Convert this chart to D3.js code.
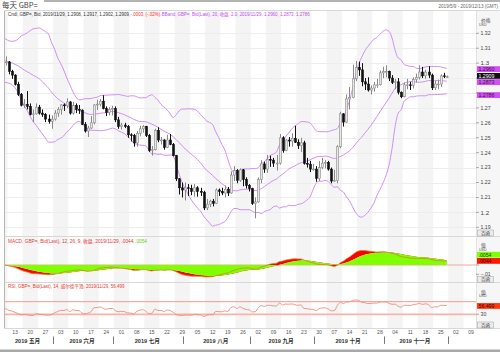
<!DOCTYPE html>
<html>
<head>
<meta charset="utf-8">
<script src="https://cdn.jsdelivr.net/npm/d3@7"></script>
<style>
  body { margin: 0; background: #fff; }
  svg { display: block; }
</style>
</head>
<body>
<script>
// ---- data (GBP= daily) ----
const firstDay = "2019-05-09";
const lastDay = "2019-12-13";

// closes before the visible range, only used to warm up the indicators
const warmupClose = [1.3077, 1.3115, 1.3165, 1.3113, 1.3037, 1.3062, 1.3058, 1.3104, 1.3073, 1.3090,
  1.3110, 1.3046, 1.3040, 1.2993, 1.2985, 1.3003, 1.2953, 1.2898, 1.2898, 1.2917,
  1.2935, 1.3040, 1.3045, 1.3035, 1.3185, 1.3095, 1.3110, 1.3010];

const open = [
  1.3010, 1.3005, 1.3008, 1.2945, 1.2920, 1.2858, 1.2790, 1.2718, 1.2723, 1.2710, 1.2655, 1.2660, 1.2705, 1.2665, 1.2655, 1.2625, 1.2610,
  1.2625, 1.2665, 1.2690, 1.2720, 1.2715, 1.2740, 1.2665, 1.2715, 1.2690, 1.2685, 1.2590, 1.2545, 1.2565, 1.2600, 1.2720, 1.2725, 1.2745, 1.2695, 1.2670, 1.2690,
  1.2695, 1.2620, 1.2575, 1.2585, 1.2575, 1.2520, 1.2515, 1.2465, 1.2530, 1.2560, 1.2575, 1.2515, 1.2415, 1.2420, 1.2550, 1.2485, 1.2485, 1.2435, 1.2485, 1.2455, 1.2380, 1.2225, 1.2165,
  1.2150, 1.2165, 1.2160, 1.2140, 1.2165, 1.2140, 1.2135, 1.2030, 1.2055, 1.2075, 1.2060, 1.2150, 1.2140, 1.2130, 1.2155, 1.2130, 1.2250, 1.2280, 1.2215, 1.2285, 1.2220, 1.2180,
  1.2160, 1.2060, 1.2070, 1.2220, 1.2325, 1.2290, 1.2355, 1.2350, 1.2330, 1.2330, 1.2500, 1.2415, 1.2485, 1.2478, 1.2495, 1.2470, 1.2447, 1.2466, 1.2328, 1.2323, 1.2290,
  1.2290, 1.2228, 1.2300, 1.2330, 1.2335, 1.2290, 1.2210, 1.2215, 1.2440, 1.2660, 1.2605, 1.2760, 1.2770, 1.2895, 1.2970, 1.2955, 1.2875, 1.2860, 1.2820, 1.2833, 1.2855, 1.2855, 1.2935,
  1.2945, 1.2945, 1.2900, 1.2870, 1.2875, 1.2805, 1.2775, 1.2855, 1.2855, 1.2850, 1.2890, 1.2905, 1.2940, 1.2915, 1.2940, 1.2920, 1.2835, 1.2860, 1.2860, 1.2915, 1.2908];
const high = [
  1.3030, 1.3045, 1.3015, 1.2955, 1.2925, 1.2875, 1.2800, 1.2760, 1.2813, 1.2730, 1.2690, 1.2730, 1.2720, 1.2690, 1.2665, 1.2655, 1.2650,
  1.2685, 1.2705, 1.2725, 1.2730, 1.2765, 1.2745, 1.2740, 1.2730, 1.2720, 1.2690, 1.2605, 1.2580, 1.2645, 1.2725, 1.2755, 1.2760, 1.2785, 1.2710, 1.2705, 1.2715,
  1.2710, 1.2640, 1.2600, 1.2600, 1.2585, 1.2530, 1.2525, 1.2545, 1.2580, 1.2585, 1.2580, 1.2525, 1.2445, 1.2560, 1.2570, 1.2505, 1.2490, 1.2520, 1.2525, 1.2465, 1.2385, 1.2230, 1.2200,
  1.2200, 1.2190, 1.2185, 1.2190, 1.2175, 1.2165, 1.2145, 1.2090, 1.2085, 1.2090, 1.2160, 1.2160, 1.2165, 1.2180, 1.2170, 1.2275, 1.2310, 1.2290, 1.2295, 1.2290, 1.2235, 1.2190,
  1.2165, 1.2100, 1.2235, 1.2350, 1.2340, 1.2385, 1.2380, 1.2365, 1.2385, 1.2525, 1.2510, 1.2490, 1.2505, 1.2530, 1.2580, 1.2490, 1.2500, 1.2480, 1.2365, 1.2345, 1.2325,
  1.2310, 1.2345, 1.2365, 1.2350, 1.2345, 1.2300, 1.2285, 1.2450, 1.2675, 1.2665, 1.2790, 1.2840, 1.2990, 1.3015, 1.3010, 1.3000, 1.2900, 1.2905, 1.2850, 1.2875, 1.2895, 1.2950, 1.2975,
  1.2985, 1.2950, 1.2920, 1.2895, 1.2900, 1.2810, 1.2870, 1.2895, 1.2875, 1.2905, 1.2930, 1.2985, 1.2975, 1.2955, 1.2980, 1.2930, 1.2880, 1.2890, 1.2925, 1.2935, 1.2917];
const low = [
  1.2990, 1.2985, 1.2925, 1.2895, 1.2850, 1.2780, 1.2710, 1.2700, 1.2690, 1.2650, 1.2605, 1.2655, 1.2655, 1.2640, 1.2605, 1.2595, 1.2560,
  1.2615, 1.2640, 1.2655, 1.2680, 1.2700, 1.2655, 1.2655, 1.2665, 1.2660, 1.2585, 1.2535, 1.2505, 1.2560, 1.2590, 1.2685, 1.2710, 1.2690, 1.2645, 1.2650, 1.2650,
  1.2605, 1.2560, 1.2555, 1.2565, 1.2500, 1.2475, 1.2440, 1.2440, 1.2510, 1.2535, 1.2505, 1.2405, 1.2380, 1.2415, 1.2470, 1.2455, 1.2420, 1.2430, 1.2450, 1.2375, 1.2210, 1.2120, 1.2100,
  1.2080, 1.2110, 1.2115, 1.2105, 1.2105, 1.2110, 1.2015, 1.2015, 1.2035, 1.2040, 1.2055, 1.2110, 1.2115, 1.2100, 1.2110, 1.2125, 1.2210, 1.2195, 1.2205, 1.2175, 1.2160, 1.2140,
  1.2050, 1.1960, 1.2065, 1.2195, 1.2265, 1.2265, 1.2305, 1.2305, 1.2280, 1.2320, 1.2400, 1.2410, 1.2440, 1.2440, 1.2465, 1.2425, 1.2405, 1.2320, 1.2300, 1.2270, 1.2280,
  1.2205, 1.2210, 1.2290, 1.2295, 1.2280, 1.2195, 1.2205, 1.2195, 1.2430, 1.2575, 1.2600, 1.2690, 1.2765, 1.2880, 1.2915, 1.2845, 1.2820, 1.2810, 1.2790, 1.2810, 1.2835, 1.2850, 1.2900,
  1.2905, 1.2880, 1.2860, 1.2825, 1.2790, 1.2765, 1.2770, 1.2825, 1.2820, 1.2830, 1.2870, 1.2890, 1.2900, 1.2895, 1.2900, 1.2820, 1.2820, 1.2825, 1.2840, 1.2900, 1.2902];
const close = [
  1.3005, 1.3008, 1.2945, 1.2920, 1.2858, 1.2790, 1.2718, 1.2723, 1.2710, 1.2655, 1.2660, 1.2705, 1.2665, 1.2655, 1.2625, 1.2610, 1.2625,
  1.2665, 1.2690, 1.2720, 1.2715, 1.2740, 1.2665, 1.2715, 1.2690, 1.2685, 1.2590, 1.2545, 1.2565, 1.2600, 1.2720, 1.2725, 1.2745, 1.2695, 1.2670, 1.2690, 1.2695,
  1.2620, 1.2575, 1.2585, 1.2575, 1.2520, 1.2515, 1.2465, 1.2530, 1.2560, 1.2575, 1.2515, 1.2415, 1.2420, 1.2550, 1.2485, 1.2485, 1.2435, 1.2485, 1.2455, 1.2380, 1.2225, 1.2165, 1.2150,
  1.2165, 1.2160, 1.2140, 1.2165, 1.2140, 1.2135, 1.2030, 1.2055, 1.2075, 1.2060, 1.2150, 1.2140, 1.2130, 1.2155, 1.2130, 1.2250, 1.2280, 1.2215, 1.2285, 1.2220, 1.2180, 1.2160,
  1.2060, 1.2070, 1.2220, 1.2325, 1.2290, 1.2355, 1.2350, 1.2330, 1.2330, 1.2500, 1.2415, 1.2485, 1.2478, 1.2495, 1.2470, 1.2447, 1.2466, 1.2328, 1.2323, 1.2290, 1.2290,
  1.2228, 1.2300, 1.2330, 1.2335, 1.2290, 1.2210, 1.2215, 1.2440, 1.2660, 1.2605, 1.2760, 1.2770, 1.2895, 1.2970, 1.2955, 1.2875, 1.2860, 1.2820, 1.2833, 1.2855, 1.2855, 1.2935, 1.2945,
  1.2945, 1.2900, 1.2870, 1.2875, 1.2805, 1.2775, 1.2855, 1.2855, 1.2850, 1.2890, 1.2905, 1.2940, 1.2915, 1.2940, 1.2920, 1.2835, 1.2860, 1.2860, 1.2915, 1.2912, 1.2909];

const priceTicks = [1.19, 1.2, 1.21, 1.22, 1.23, 1.24, 1.25, 1.26, 1.27, 1.28, 1.29, 1.3, 1.31, 1.32];
const macdTicks = [-0.01, 0];
const rsiTicks = [30];
const rsiLevels = [70, 30];
const monthNames = ["一月", "二月", "三月", "四月", "五月", "六月", "七月", "八月", "九月", "十月", "十一月", "十二月"];

// last values shown in the panel legends / axis boxes
const lastClose = "1.2909";
const lastBands = ["1.2960", "1.2873", "1.2786"];
const lastMacd = ".0044", lastSignal = ".0054", lastRsi = "56.499";

// ---- layout ----
const W = 500, H = 352;
const plotL = 4.5, plotR = 476;
const mainTop = 11, mainBot = 236.5;
const macdTop = 236.5, macdBot = 282.5;
const rsiTop = 282.5, rsiBot = 328.5;
const font = "'Liberation Sans', Arial, 'Noto Sans CJK SC', sans-serif";

const parse = d3.utcParse("%Y-%m-%d");
const days = d3.utcDay.range(parse(firstDay), d3.utcDay.offset(parse(lastDay), 1))
  .filter(d => d.getUTCDay() % 6 !== 0);

const x = d3.scaleBand().domain(d3.range(days.length)).range([1.4, 478.7]);
const step = x.step();
const cx = i => x(i) + step / 2;

const yP = d3.scaleLinear().domain([1.19, 1.32]).range([227.3, 33.3]);
const yM = d3.scaleLinear().domain([-0.01, 0]).range([274.3, 265]);
const yR = d3.scaleLinear().domain([30, 70]).range([314.3, 301.7]);

// ---- indicators (BB 20/2, MACD 12/26/9, RSI 14 Wilder) ----
const allClose = warmupClose.concat(close);
const off = warmupClose.length;
const bands = close.map((c, i) => {
  const win = allClose.slice(off + i - 19, off + i + 1);
  const m = d3.mean(win);
  const sd = Math.sqrt(d3.mean(win, v => (v - m) ** 2));
  return { i, mid: m, up: m + 2 * sd, lo: m - 2 * sd };
});
function ema(arr, n) {
  const k = 2 / (n + 1);
  let e = arr[0];
  return arr.map((v, i) => (i === 0 ? e : (e = v * k + e * (1 - k))));
}
const e12 = ema(allClose, 12), e26 = ema(allClose, 26);
const macdAll = e12.map((v, i) => v - e26[i]);
const sigAll = ema(macdAll, 9);
let ag = 0, al = 0;
const rsiAll = [null];
for (let i = 1; i < allClose.length; i++) {
  const d = allClose[i] - allClose[i - 1];
  const g = Math.max(d, 0), l = Math.max(-d, 0);
  if (i <= 14) { ag += g / 14; al += l / 14; } else { ag = (ag * 13 + g) / 14; al = (al * 13 + l) / 14; }
  rsiAll.push(i >= 14 ? 100 - 100 / (1 + ag / al) : null);
}
const ind = close.map((c, i) => ({
  i, macd: macdAll[off + i], signal: sigAll[off + i], rsi: rsiAll[off + i]
}));

// ---- svg ----
const svg = d3.select("body").append("svg")
  .attr("width", W).attr("height", H)
  .attr("viewBox", [0, 0, W, H])
  .style("font-family", font);

// title and date range
svg.append("text").attr("x", 2).attr("y", 8)
  .attr("font-size", 7.5).attr("fill", "#444")
  .attr("font-family", "'Noto Sans CJK SC', 'Liberation Sans', sans-serif")
  .text("每天 GBP=");
svg.append("line").attr("x1", 44).attr("x2", W).attr("y1", 1).attr("y2", 1)
  .attr("stroke", "#9a9a9a").attr("stroke-width", 1.5);
svg.append("text").attr("x", 498).attr("y", 7.5).attr("text-anchor", "end")
  .attr("font-size", 4.6).attr("fill", "#666")
  .text("2019/5/9 - 2019/12/13 (GMT)");

// axis column background
svg.append("rect").attr("x", plotR).attr("y", mainTop).attr("width", W - plotR).attr("height", rsiBot - mainTop)
  .attr("fill", "#f6f6f6");

// weekly stripes
const weekOf = d => d3.utcMonday.count(parse("2019-05-06"), d);
const weeks = d3.groups(d3.range(days.length), i => weekOf(days[i]));
svg.append("g").selectAll("rect")
  .data(weeks.filter(([w]) => w % 2 === 0))
  .join("rect")
  .attr("x", ([, idx]) => Math.max(plotL, x(idx[0])))
  .attr("width", ([, idx]) => Math.min(plotR, x(idx[idx.length - 1]) + step) - Math.max(plotL, x(idx[0])))
  .attr("y", mainTop).attr("height", rsiBot - mainTop)
  .attr("fill", "#f4f4f4");

// clip paths
const defs = svg.append("defs");
[["clipMain", mainTop, mainBot], ["clipMacd", macdTop, macdBot], ["clipRsi", rsiTop, rsiBot]].forEach(([id, t, b]) => {
  defs.append("clipPath").attr("id", id).append("rect")
    .attr("x", plotL).attr("y", t).attr("width", plotR - plotL).attr("height", b - t);
});

// horizontal grid
svg.append("g").selectAll("line").data(priceTicks).join("line")
  .attr("x1", plotL).attr("x2", plotR)
  .attr("y1", d => Math.round(yP(d)) + 0.5).attr("y2", d => Math.round(yP(d)) + 0.5)
  .attr("stroke", "#ededed").attr("stroke-width", 1);

// ---- main panel ----
const gMain = svg.append("g").attr("clip-path", "url(#clipMain)");
const bandLine = key => d3.line().x(d => cx(d.i)).y(d => yP(d[key])).curve(d3.curveMonotoneX);
["up", "mid", "lo"].forEach(k => {
  gMain.append("path").datum(bands).attr("d", bandLine(k))
    .attr("fill", "none").attr("stroke", "#cf8ff2").attr("stroke-width", 1);
});

const candles = gMain.append("g").selectAll("g").data(close.map((c, i) => i)).join("g");
candles.append("line")
  .attr("x1", i => Math.round(cx(i)) + 0.5).attr("x2", i => Math.round(cx(i)) + 0.5)
  .attr("y1", i => yP(high[i])).attr("y2", i => yP(low[i]))
  .attr("stroke", i => (close[i] >= open[i] ? "#8a8a8a" : "#111")).attr("stroke-width", 1);
candles.append("rect")
  .attr("x", i => Math.round(cx(i)) - 0.5)
  .attr("width", 2)
  .attr("y", i => yP(Math.max(open[i], close[i])))
  .attr("height", i => Math.max(0.8, Math.abs(yP(open[i]) - yP(close[i]))))
  .attr("fill", i => (close[i] >= open[i] ? "#e6e6e6" : "#111"))
  .attr("stroke", i => (close[i] >= open[i] ? "#8a8a8a" : "#111"))
  .attr("stroke-width", 0.6);

// panel legends: pieces side by side, font sized so the line spans the width seen in the picture
const legendFont = "'Liberation Sans Narrow', 'Liberation Sans', 'Noto Sans CJK SC', sans-serif";
function legend(y, width, pieces) {
  const nodes = pieces.map(([txt, col]) =>
    svg.append("text").attr("y", y).attr("font-size", 5).attr("font-family", legendFont)
      .attr("fill", col).text(txt));
  const total = d3.sum(nodes, n => n.node().getComputedTextLength());
  const size = Math.min(5.2, 5 * width / total);
  let xx = 8;
  nodes.forEach(n => {
    n.attr("font-size", size).attr("x", xx);
    xx += n.node().getComputedTextLength() + 0.4;
  });
}
legend(16.2, 302, [
  ["Cndl, GBP=, Bid, 2019/11/29, 1.2908, 1.2917, 1.2902, 1.2909,", "#333"],
  ["-.0003, (-.02%),", "#ff2a2a"],
  ["BBand, GBP=, Bid(Last), 20, 收盘, 2.0, 2019/11/29, 1.2960, 1.2873, 1.2786", "#c050f0"]
]);

// ---- MACD panel ----
const gMacd = svg.append("g").attr("clip-path", "url(#clipMacd)");
gMacd.append("line").attr("x1", plotL).attr("x2", plotR).attr("y1", yM(0)).attr("y2", yM(0))
  .attr("stroke", "#f4a4a0").attr("stroke-width", 1.2);
gMacd.append("path").datum(ind)
  .attr("d", d3.area().x(d => cx(d.i)).y0(d => yM(d.signal)).y1(d => yM(d.macd)).curve(d3.curveMonotoneX))
  .attr("fill", "#ff0000");
gMacd.append("path").datum(ind)
  .attr("d", d3.area().x(d => cx(d.i)).y0(yM(0)).y1(d => yM(d.signal)).curve(d3.curveMonotoneX))
  .attr("fill", "#80ff00");
gMacd.append("path").datum(ind)
  .attr("d", d3.line().x(d => cx(d.i)).y(d => yM(d.macd)).curve(d3.curveMonotoneX))
  .attr("fill", "none").attr("stroke", "#d0862a").attr("stroke-width", 0.8);

legend(243, 139, [
  ["MACD, GBP=, Bid(Last), 12, 26, 9, 收盘, 2019/11/29, .0044,", "#e23a3a"],
  [".0054", "#5ed000"]
]);

// ---- RSI panel ----
const gRsi = svg.append("g").attr("clip-path", "url(#clipRsi)");
gRsi.selectAll("line").data(rsiLevels).join("line")
  .attr("x1", plotL).attr("x2", plotR)
  .attr("y1", d => yR(d)).attr("y2", d => yR(d))
  .attr("stroke", d => (d === 30 ? "#f8b4a8" : "#f49a8c"))
  .attr("stroke-width", d => (d === 30 ? 1.8 : 1));
gRsi.append("path").datum(ind.filter(d => d.rsi != null))
  .attr("d", d3.line().x(d => cx(d.i)).y(d => yR(d.rsi)).curve(d3.curveMonotoneX))
  .attr("fill", "none").attr("stroke", "#f28c7c").attr("stroke-width", 0.9);

legend(287.5, 117, [["RSI, GBP=, Bid(Last), 14, 威尔德平滑, 2019/11/29, 56.499", "#e0452e"]]);

// ---- frame lines ----
svg.append("line").attr("x1", plotL).attr("x2", plotL).attr("y1", mainTop).attr("y2", rsiBot)
  .attr("stroke", "#b8b8b8");
[mainTop - 0.5, macdTop, rsiTop, rsiBot].forEach(yy => {
  svg.append("line").attr("x1", plotL).attr("x2", W).attr("y1", yy).attr("y2", yy)
    .attr("stroke", "#d8d8d8");
});
svg.append("line").attr("x1", plotR + 0.5).attr("x2", plotR + 0.5).attr("y1", mainTop).attr("y2", rsiBot)
  .attr("stroke", "#e2e2e2");
svg.append("rect").attr("x", 0).attr("y", 349.5).attr("width", W).attr("height", 2.5).attr("fill", "#a8a8a8");

// ---- value boxes on the axis, pushed apart bottom-up like the original ----
function placeBoxes(items) {
  const h = 6.2;
  items.sort((a, b) => b.y - a.y);
  for (let k = 1; k < items.length; k++) items[k].y = Math.min(items[k].y, items[k - 1].y - h);
  return items;
}
const mainBoxes = placeBoxes([
  { y: yP(+lastBands[0]), text: lastBands[0], bg: "#d050f2", fg: "#3a1040" },
  { y: yP(+lastClose), text: lastClose, bg: "#111", fg: "#fff" },
  { y: yP(+lastBands[1]), text: lastBands[1], bg: "#d050f2", fg: "#3a1040" },
  { y: yP(+lastBands[2]), text: lastBands[2], bg: "#d050f2", fg: "#3a1040" }
]);
const macdBoxes = placeBoxes([
  { y: yM(+lastSignal), text: lastSignal, bg: "#80ff00", fg: "#224400" },
  { y: yM(+lastMacd), text: lastMacd, bg: "#ff1a00", fg: "#330000" }
]);
const rsiBoxes = placeBoxes([{ y: yR(+lastRsi), text: lastRsi, bg: "#ff3a10", fg: "#3a0000" }]);

// ---- right axes (tick labels hidden under value boxes are skipped) ----
function axisTicks(ticks, scale, fmt, boxes, bigOnes) {
  const g = svg.append("g").attr("fill", "#444");
  ticks.forEach(t => {
    const yy = scale(t);
    g.append("line").attr("x1", plotR).attr("x2", plotR + 3).attr("y1", yy).attr("y2", yy)
      .attr("stroke", "#777").attr("stroke-width", 0.6);
    if (boxes.some(b => Math.abs(b.y - yy) < 5.5)) return;
    g.append("text").attr("x", plotR + 4.5).attr("y", yy).attr("dy", "0.35em")
      .attr("font-size", bigOnes && bigOnes(t) ? 6.2 : 5.2)
      .text(fmt(t));
  });
}
axisTicks(priceTicks, yP, d => d3.format("~r")(+d.toFixed(2)), mainBoxes,
  t => Math.abs(t * 10 - Math.round(t * 10)) < 1e-9);
axisTicks(macdTicks, yM, d => (d === 0 ? "0" : d3.format(".2f")(d).replace("0.", ".")), macdBoxes);
axisTicks(rsiTicks, yR, d => String(d), rsiBoxes);

function drawBoxes(items) {
  items.forEach(it => {
    svg.append("rect").attr("x", plotR + 1).attr("y", it.y - 2.9).attr("width", W - plotR - 1).attr("height", 5.8)
      .attr("fill", it.bg);
    svg.append("text").attr("x", plotR + 2.5).attr("y", it.y).attr("dy", "0.36em")
      .attr("font-size", 5.2).attr("fill", it.fg).text(it.text);
  });
}
drawBoxes(mainBoxes);
drawBoxes(macdBoxes);
drawBoxes(rsiBoxes);

function unitLabel(y, top, bottom) {
  svg.append("text").attr("x", 481).attr("y", y).attr("font-size", 4.8)
    .attr("font-family", "'Noto Sans CJK SC', sans-serif").attr("fill", "#444").text(top);
  svg.append("text").attr("x", 479).attr("y", y + 3.8).attr("font-size", 3.6).attr("fill", "#555").text(bottom);
}
unitLabel(22, "价格", "USD");
unitLabel(247.2, "值", "USD");
unitLabel(293.5, "值", "USD");

function zoomBtn(cy) {
  svg.append("rect").attr("x", 477.5).attr("y", cy - 3).attr("width", 16).attr("height", 6)
    .attr("fill", "#ececec").attr("stroke", "#a0a0a0").attr("stroke-width", 0.5);
  svg.append("text").attr("x", 485.5).attr("y", cy).attr("dy", "0.35em").attr("text-anchor", "middle")
    .attr("font-size", 4.6).attr("font-family", "'Noto Sans CJK SC', sans-serif").attr("fill", "#444")
    .text("百函");
}
zoomBtn(233);
zoomBtn(279.5);
zoomBtn(325);

// ---- bottom time axis ----
const mondays = d3.range(days.length).filter(i => days[i].getUTCDay() === 1);
svg.append("g").selectAll("text").data(mondays).join("text")
  .attr("x", i => x(i) + 2.5 * step)
  .attr("y", 334)
  .attr("text-anchor", "middle")
  .attr("font-size", 5).attr("fill", "#555")
  .text(i => d3.utcFormat("%d")(days[i]));

const monthStarts = d3.range(days.length).filter(i => i > 0 && days[i].getUTCMonth() !== days[i - 1].getUTCMonth());
const seps = monthStarts.map(i => x(i) - 0.5);
svg.append("g").selectAll("line").data(seps).join("line")
  .attr("x1", d => Math.round(d) + 0.5).attr("x2", d => Math.round(d) + 0.5)
  .attr("y1", 336.5).attr("y2", 344)
  .attr("stroke", "#555").attr("stroke-width", 0.8);
const segs = [plotL].concat(seps).map((s, k, arr) => ({
  x0: s, x1: k + 1 < arr.length ? arr[k + 1] : plotR,
  m: days[k === 0 ? 0 : monthStarts[k - 1]]
})).filter(s => s.x1 - s.x0 > 35);
svg.append("g").selectAll("text").data(segs).join("text")
  .attr("x", s => (s.x0 + s.x1) / 2 - 1)
  .attr("y", 343)
  .attr("text-anchor", "middle")
  .attr("font-size", 5.6).attr("font-weight", "bold").attr("fill", "#333")
  .attr("font-family", "'Liberation Sans', 'Noto Sans CJK SC', sans-serif")
  .text(s => s.m.getUTCFullYear() + " " + monthNames[s.m.getUTCMonth()]);
</script>
</body>
</html>
